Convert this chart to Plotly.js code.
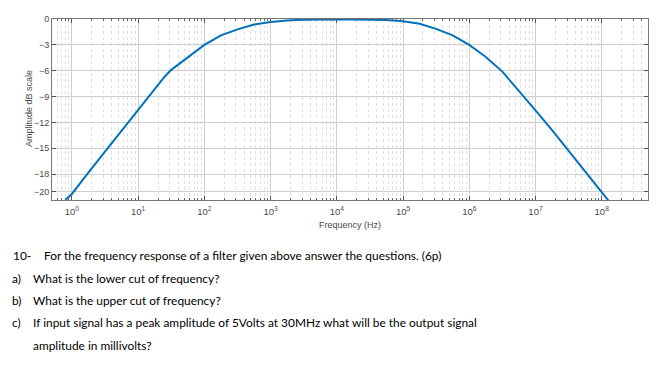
<!DOCTYPE html>
<html>
<head>
<meta charset="utf-8">
<script src="https://cdn.plot.ly/plotly-3.0.1.min.js"></script>
<style>
  html, body { margin: 0; padding: 0; background: #fff; }
  #chart { width: 662px; height: 368px; }
</style>
</head>
<body>
<div id="chart"></div>
<script>
// ---- data ----
const frequencyHz = [0.79, 1, 1.78, 3.16, 5.62, 10, 17.8, 25.1, 31.6, 56.2, 100, 178, 316, 562, 1000, 1780, 3160,
  10000, 31600, 56200, 100000, 178000, 316000, 562000, 1000000, 1780000, 3160000, 5620000, 10000000,
  17800000, 31600000, 56200000, 100000000, 178000000];
const amplitudeDb = [-21.0, -20.3, -17.8, -15.4, -12.9, -10.5, -8.2, -6.7, -5.9, -4.4, -3.0, -1.9, -1.2, -0.65, -0.35, -0.17, -0.08,
  -0.02, -0.06, -0.12, -0.25, -0.55, -1.15, -1.9, -3.0, -4.4, -6.1, -8.3, -10.6,
  -12.9, -15.3, -17.7, -20.1, -22.5];
const xTickVals = [1, 10, 100, 1000, 10000, 100000, 1000000, 10000000, 100000000];
const xTickText = ['10<sup>0</sup>', '10<sup>1</sup>', '10<sup>2</sup>', '10<sup>3</sup>', '10<sup>4</sup>',
  '10<sup>5</sup>', '10<sup>6</sup>', '10<sup>7</sup>', '10<sup>8</sup>'];
const yTickVals = [0, -3, -6, -9, -12, -15, -18, -20];
const xTitle = 'Frequency (Hz)';
const yTitle = 'Amplitude dB scale';
const questionLines = [
  ['10-', 'For the frequency response of a filter given above answer the questions. (6p)'],
  ['a)', 'What is the lower cut of frequency?'],
  ['b)', 'What is the upper cut of frequency?'],
  ['c)', 'If input signal has a peak amplitude of 5Volts at 30MHz what will be the output signal'],
  ['', 'amplitude in millivolts?']
];

// ---- layout helpers ----
const W = 662, H = 368;
const M = {l: 52, r: 14, t: 19, b: 168};
const PW = W - M.l - M.r, PH = H - M.t - M.b;
const px = x => (x - M.l) / PW;
const py = y => 1 - (y - M.t) / PH;

const minorVals = [];
for (let e = -1; e <= 8; e++) {
  for (let m = 2; m <= 9; m++) minorVals.push(m * Math.pow(10, e));
}

const tickFont = {family: 'Liberation Sans, Arial, sans-serif', size: 9, color: '#4a4a4a'};
const xTickFont = {family: 'Liberation Sans, Arial, sans-serif', size: 9.5, color: '#4a4a4a'};
const textFont = {family: 'Lato, sans-serif', size: 11.9, color: '#000'};

const annotations = [];
const lineY = [255, 278, 300, 322, 345];
const labelX = [11, 10, 10, 10, 10];
const bodyX = [42, 31, 31, 31, 31];
questionLines.forEach((ln, i) => {
  if (ln[0]) annotations.push({xref: 'paper', yref: 'paper', x: px(labelX[i]), y: py(lineY[i]),
    xanchor: 'left', yanchor: 'middle', showarrow: false, text: ln[0], font: textFont});
  annotations.push({xref: 'paper', yref: 'paper', x: px(bodyX[i]), y: py(lineY[i]),
    xanchor: 'left', yanchor: 'middle', showarrow: false, text: ln[1], font: textFont});
});
// y-axis title placed as rotated text at the reference position
annotations.push({xref: 'paper', yref: 'paper', x: px(29), y: py(109), xanchor: 'center', yanchor: 'middle',
  textangle: -90, showarrow: false, text: yTitle, font: tickFont});

const trace = {
  x: frequencyHz, y: amplitudeDb, type: 'scatter', mode: 'lines',
  line: {color: '#0072BD', width: 2}, hoverinfo: 'skip'
};

const layout = {
  width: W, height: H, margin: M,
  paper_bgcolor: '#fff', plot_bgcolor: '#fff',
  showlegend: false,
  xaxis: {
    type: 'log', range: [Math.log10(0.5), Math.log10(5e8)],
    tickmode: 'array', tickvals: xTickVals, ticktext: xTickText,
    ticks: 'inside', ticklen: 4, tickcolor: '#555', tickfont: xTickFont, ticklabelstandoff: 3,
    showline: true, linecolor: '#777', linewidth: 1, mirror: 'ticks',
    showgrid: true, gridcolor: '#cfcfcf', gridwidth: 1,
    zeroline: false,
    minor: {tickmode: 'array', tickvals: minorVals, ticks: 'inside', ticklen: 2, tickcolor: '#666',
      showgrid: true, gridcolor: '#dedede', griddash: 'dot', gridwidth: 1},
    title: {text: xTitle, font: tickFont, standoff: 5}
  },
  yaxis: {
    range: [-21, 0],
    tickmode: 'array', tickvals: yTickVals,
    ticks: 'inside', ticklen: 4, tickcolor: '#555', tickfont: tickFont,
    showline: true, linecolor: '#777', linewidth: 1, mirror: 'ticks',
    showgrid: true, gridcolor: '#cfcfcf', gridwidth: 1,
    zeroline: false
  },
  annotations: annotations
};

Plotly.newPlot('chart', [trace], layout, {displayModeBar: false, staticPlot: true});
</script>
</body>
</html>
